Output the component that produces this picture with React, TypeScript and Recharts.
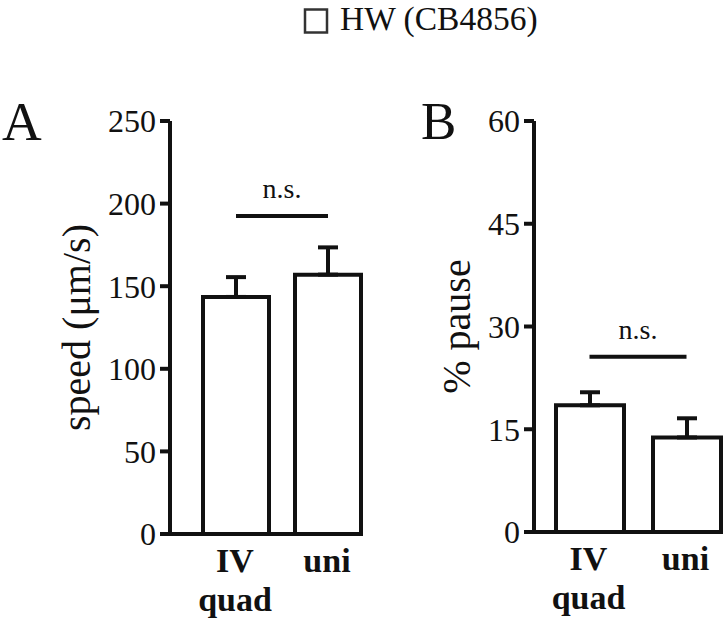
import { BarChart, Bar, XAxis, YAxis, ErrorBar, ReferenceLine } from 'recharts';

// valores
const categories = ['IV quad', 'uni'];
const speedMean = [143.5, 157];
const speedErr = [12, 16.5];
const pauseMean = [18.5, 13.8];
const pauseErr = [1.9, 2.8];
const speedTicks = [0, 50, 100, 150, 200, 250];
const pauseTicks = [0, 15, 30, 45, 60];
const speedNs = 192.5;
const pauseNs = 25.6;
const seriesName = 'HW (CB4856)';

const FONT = "'Liberation Serif', 'Times New Roman', serif";
const INK = '#111';

const speedData = categories.map((c, i) => ({ name: c, value: speedMean[i], err: [0, speedErr[i]] }));
const pauseData = categories.map((c, i) => ({ name: c, value: pauseMean[i], err: [0, pauseErr[i]] }));

// etiqueta del eje x en dos lineas ("IV" / "quad")
const XTick = (props: any) => {
  const { x, y, payload } = props;
  const lines = String(payload.value).split(' ');
  return (
    <g>
      {lines.map((t: string, i: number) => (
        <text
          key={i}
          x={x - 1}
          y={y + 38 + i * 39}
          textAnchor="middle"
          style={{ fontFamily: FONT, fontWeight: 'bold', fontSize: 34 }}
          fill={INK}
        >
          {t}
        </text>
      ))}
    </g>
  );
};

const yLabel = (text: string) => ({
  value: text,
  content: (props: any) => {
    const vb = props.viewBox || { y: 0, height: 0 };
    const cx = 76;
    const cy = vb.y + vb.height / 2;
    return (
      <text
        x={cx}
        y={cy}
        transform={`rotate(-90 ${cx} ${cy})`}
        textAnchor="middle"
        dominantBaseline="central"
        style={{ fontFamily: FONT, fontSize: 40 }}
        fill={INK}
      >
        {text}
      </text>
    );
  },
});

const tickStyle = { fill: INK, fontSize: 32, style: { fontFamily: FONT, fontSize: 32 } };
const nsLabel = { value: 'n.s.', position: 'top' as const, offset: 18, fontSize: 28, fill: INK, style: { fontFamily: FONT, fontSize: 28 } };

const App = () => {
  return (
    <div style={{ position: 'absolute', top: 0, left: 0, width: 724, height: 623, overflow: 'hidden', background: '#fff', fontFamily: FONT }}>
      {/* A: velocidad */}
      <div style={{ position: 'absolute', left: 0, top: 0 }}>
        <BarChart width={380} height={623} data={speedData} margin={{ top: 121, right: 6, bottom: 29, left: 0 }}>
          <XAxis
            dataKey="name"
            height={60}
            padding={{ left: 20, right: 0 }}
            tickLine={false}
            tickSize={0}
            tickMargin={0}
            axisLine={{ stroke: INK, strokeWidth: 4, strokeDasharray: '193 400' }}
            tick={<XTick />}
            interval={0}
          />
          <YAxis
            width={170}
            domain={[0, 250]}
            ticks={speedTicks}
            interval={0}
            tickSize={10}
            tickMargin={4}
            axisLine={{ stroke: INK, strokeWidth: 4 }}
            tickLine={{ stroke: INK, strokeWidth: 4 }}
            tick={tickStyle}
            label={yLabel('speed (μm/s)')}
          />
          <Bar dataKey="value" name={seriesName} barSize={66} fill="#fff" stroke={INK} strokeWidth={4} isAnimationActive={false}>
            <ErrorBar dataKey="err" direction="y" width={10} stroke={INK} strokeWidth={4} isAnimationActive={false} />
          </Bar>
          <ReferenceLine
            segment={[{ x: categories[0], y: speedNs }, { x: categories[1], y: speedNs }]}
            stroke={INK}
            strokeWidth={4}
            label={nsLabel}
          />
        </BarChart>
      </div>

      {/* B: % pausa */}
      <div style={{ position: 'absolute', left: 380, top: 0 }}>
        <BarChart width={360} height={623} data={pauseData} margin={{ top: 121, right: 5, bottom: 31, left: 0 }}>
          <XAxis
            dataKey="name"
            height={60}
            padding={{ left: 7, right: 0 }}
            tickLine={false}
            tickSize={0}
            tickMargin={0}
            axisLine={{ stroke: INK, strokeWidth: 4, strokeDasharray: '188 400' }}
            tick={<XTick />}
            interval={0}
          />
          <YAxis
            width={154}
            domain={[0, 60]}
            ticks={pauseTicks}
            interval={0}
            tickSize={10}
            tickMargin={4}
            axisLine={{ stroke: INK, strokeWidth: 4 }}
            tickLine={{ stroke: INK, strokeWidth: 4 }}
            tick={tickStyle}
            label={yLabel('% pause')}
          />
          <Bar dataKey="value" name={seriesName} barSize={68} fill="#fff" stroke={INK} strokeWidth={4} isAnimationActive={false}>
            <ErrorBar dataKey="err" direction="y" width={10} stroke={INK} strokeWidth={4} isAnimationActive={false} />
          </Bar>
          <ReferenceLine
            segment={[{ x: categories[0], y: pauseNs }, { x: categories[1], y: pauseNs }]}
            stroke={INK}
            strokeWidth={4}
            label={nsLabel}
          />
        </BarChart>
      </div>

      {/* leyenda y letras de panel */}
      <svg width={724} height={623} style={{ position: 'absolute', left: 0, top: 0, pointerEvents: 'none', fontFamily: FONT }}>
        <rect x={305} y={9.5} width={22} height={23} fill="#fff" stroke="#333" strokeWidth={2.5} />
        <text x={340} y={30} style={{ fontFamily: FONT, fontSize: 33.5 }} fill={INK}>{seriesName}</text>
        <text x={2} y={140} style={{ fontFamily: FONT, fontSize: 55 }} fill={INK}>A</text>
        <text x={421} y={139} style={{ fontFamily: FONT, fontSize: 53 }} fill={INK}>B</text>
      </svg>
    </div>
  );
};

export default App;
